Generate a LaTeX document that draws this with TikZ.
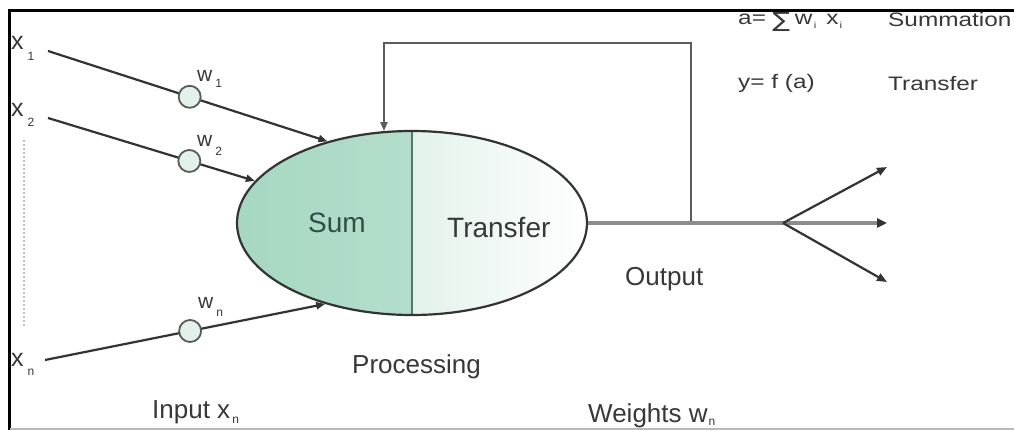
\documentclass[tikz,border=0pt]{standalone}
\usepackage{fontspec}
\setmainfont{Liberation Sans}
\newfontfamily\symfont{DejaVu Sans}
\usetikzlibrary{shapes.geometric,arrows.meta}
\definecolor{txt}{HTML}{383838}
\definecolor{sumtxt}{HTML}{2F4F44}
\definecolor{edge}{HTML}{333333}
\definecolor{sumL}{HTML}{A6D7C1}
\definecolor{sumR}{HTML}{C2E5D6}
\definecolor{trL}{HTML}{E2F2EB}
\definecolor{divc}{HTML}{52786A}
\definecolor{circf}{HTML}{E2F2EA}
\definecolor{circd}{HTML}{5A5A5A}
\definecolor{outg}{HTML}{8C8C8C}
\definecolor{fbc}{HTML}{5C5C5C}
\newcommand{\lsub}[2]{\raisebox{#1}{\fontsize{12}{12}\selectfont #2}}
\begin{document}
\begin{tikzpicture}[x=1pt,y=-1pt,
  lbl/.style={font=\fontsize{26}{30}\selectfont, text=txt, inner sep=0, anchor=base west},
  big/.style={font=\fontsize{28}{32}\selectfont, inner sep=0, anchor=base west},
  xl/.style={font=\fontsize{25}{28}\selectfont, text=txt, inner sep=0, anchor=base west},
  wl/.style={font=\fontsize{21}{24}\selectfont, text=txt, inner sep=0, anchor=base west},
  eq/.style={font=\fontsize{19.5}{22}\selectfont, text=txt, inner sep=0, anchor=base west},
  tip/.style={-{Triangle[length=9pt,width=7pt]}},
  inl/.style={draw=edge, line width=2.2pt, tip},
  wc/.style={circle, draw=circd, fill=circf, line width=1.8pt, minimum size=22pt, inner sep=0},
  fb/.style={draw=fbc, line width=2pt},
  outl/.style={draw=outg, line width=4pt},
  fan/.style={draw=edge, line width=2.2pt, -{Triangle[length=10pt,width=8pt]}},
  fanmid/.style={draw=outg, line width=4pt, -{Triangle[length=10pt,width=9pt,color=edge]}},
]
\useasboundingbox (0,0) rectangle (1014,430);
\fill[white] (0,0) rectangle (1014,430);
% frame
\draw[line width=3pt] (9.5,430) -- (9.5,11) -- (1014,11);
\draw[gray!55, line width=1.2pt] (9.5,429) -- (1014,429);

% neuron
\node[ellipse, draw=edge, line width=2.2pt, minimum width=350pt, minimum height=184pt, inner sep=0,
  path picture={
    \shade[left color=sumL, right color=sumR] (path picture bounding box.south west) rectangle (path picture bounding box.north);
    \shade[left color=trL, right color=white] (path picture bounding box.north) rectangle (path picture bounding box.south east);
    \draw[divc, line width=2pt] (path picture bounding box.north) -- (path picture bounding box.south);
  }] (neuron) at (412,223) {};
\node[big, text=sumtxt] (sum) at (308,233) {Sum};
\node[big, text=txt] (transfer) at (447,238) {Transfer};

% inputs
\coordinate (s1) at (48,51);
\coordinate (s2) at (48,118);
\coordinate (sn) at (45,360);
\node[xl] (x1) at (11,50) {x\hspace{4pt}\lsub{-11pt}{1}};
\node[xl] (x2) at (11,117) {x\hspace{4pt}\lsub{-10pt}{2}};
\node[xl] (xn) at (11,366) {x\hspace{4pt}\lsub{-9pt}{n}};
\draw[gray!50, line width=1.5pt, dash pattern=on 2pt off 2pt] (24,140) -- (24,327);

\draw[inl] (s1) -- node[wc, pos=0.507] (c1) {} (neuron.136);
\draw[inl] (s2) -- node[wc, pos=0.683] (c2) {} (neuron.165);
\draw[inl] (sn) -- node[wc, pos=0.518] (cn) {} (neuron.223);
\node[wl] (w1) at (197,82) {w\hspace{3pt}\lsub{-6pt}{1}};
\node[wl] (w2) at (197,147) {w\hspace{3pt}\lsub{-9pt}{2}};
\node[wl] (wn) at (198,308) {w\hspace{3pt}\lsub{-8pt}{n}};

% feedback and output
\coordinate (tap) at (691,223);
\coordinate (fbtop) at (384,43);
\coordinate (br) at (783,223);
\coordinate (o1) at (887,167);
\coordinate (o2) at (887,223);
\coordinate (o3) at (887,282);
\draw[fb, tip] (tap) |- (fbtop) -- (fbtop |- neuron.107);
\draw[outl] (neuron.east) -- (br);
\draw[fanmid] (br) -- (o2);
\draw[fan] (br) -- (o1);
\draw[fan] (br) -- (o3);

% labels
\node[lbl] (output) at (625,286) {Output};
\node[lbl] (processing) at (352,373) {Processing};
\node[lbl] (input) at (152,418) {Input x\hspace{2pt}\lsub{-5pt}{n}};
\node[lbl] (weights) at (588,422) {Weights w\hspace{1pt}\lsub{-3pt}{n}};

% equations
\node[eq] (eqa) at (738,25) {\scalebox{1.25}[1]{a=\hspace{5pt}\raisebox{-3pt}{\fontsize{21}{21}\symfont ∑}\hspace{4pt}w\hspace{1pt}\lsub{-4pt}{\fontsize{9}{9}\selectfont i}\hspace{8pt}x\hspace{1pt}\lsub{-4pt}{\fontsize{9}{9}\selectfont i}}};
\node[eq] (summ) at (888,27) {\scalebox{1.25}[1]{Summation}};
\node[eq] (eqy) at (738,89) {\scalebox{1.25}[1]{y= f (a)}};
\node[eq] (transf) at (888,91) {\scalebox{1.25}[1]{Transfer}};
\end{tikzpicture}
\end{document}
